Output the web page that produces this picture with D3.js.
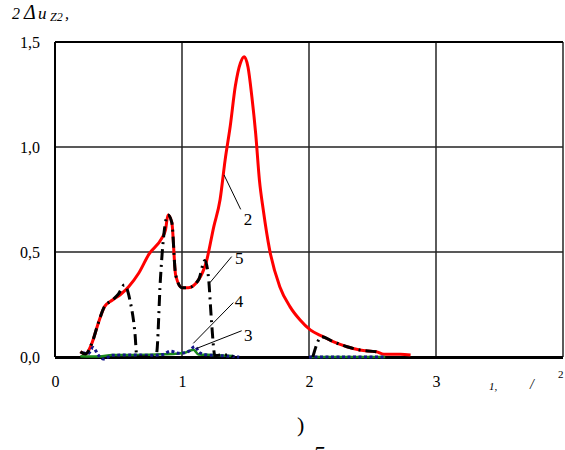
<!DOCTYPE html>
<html><head><meta charset="utf-8">
<script src="https://cdn.jsdelivr.net/npm/d3@7"></script>
<style>body{margin:0;background:#fff} svg text{font-family:"Liberation Serif","Times New Roman",Times,serif;fill:#000}</style>
</head><body><svg id="c" width="565" height="450"></svg>
<script>
// ---- data ----
const xTicks = [0, 1, 2, 3];
const yTicks = [0, 0.5, 1.0, 1.5];
const xGrid = [1, 2, 3, 4];
const yGrid = [0.5, 1.0];

// curve 2 (red)
const redX = [0.20,0.24,0.29,0.34,0.39,0.45,0.52,0.58,0.66,0.74,0.84,0.87,0.89,0.92,0.95,1.00,1.05,1.13,1.19,1.25,1.30,1.34,1.38,1.42,1.46,1.49,1.52,1.55,1.58,1.61,1.64,1.69,1.77,1.85,1.93,2.01,2.11,2.19,2.30,2.40,2.53,2.59,2.72,2.80];
const redY = [0.025,0.014,0.065,0.16,0.24,0.27,0.30,0.335,0.40,0.49,0.565,0.605,0.676,0.64,0.39,0.33,0.33,0.367,0.45,0.62,0.75,0.94,1.10,1.29,1.40,1.43,1.38,1.24,1.065,0.84,0.70,0.51,0.335,0.24,0.176,0.129,0.097,0.073,0.049,0.033,0.025,0.013,0.013,0.01];

// curve 5 (black dash-dot), null = gap
const blackX = [0.20,0.24,0.29,0.34,0.39,0.45,0.50,0.546,0.59,0.63,0.645,0.70,0.78,0.80,0.83,0.85,0.89,0.92,0.95,1.00,1.05,1.13,1.18,1.21,1.23,1.26,1.30,1.38,1.40, 1.70, 2.03,2.10,2.19,2.30,2.40,2.53,2.56];
const blackY = [0.025,0.014,0.065,0.16,0.24,0.27,0.30,0.343,0.27,0.11,0.0,0.0,0.0,0.018,0.37,0.54,0.676,0.64,0.39,0.33,0.33,0.367,0.46,0.37,0.19,0.005,0.01,0.01,0.0, null, 0.0,0.097,0.073,0.049,0.033,0.025,0.02];

// curve 3 (green)
const greenX = [0.20,0.35,0.45,0.60,0.80,0.95,1.02,1.09,1.13,1.25,1.40, 1.70, 2.00,2.60];
const greenY = [0.004,0.002,0.01,0.01,0.012,0.015,0.02,0.035,0.012,0.01,0.005, null, 0.0,0.0];

// curve 4 (blue dotted)
const blueX = [0.22,0.26,0.30,0.34,0.38,0.45,0.60,0.75,0.85,0.91,0.97,1.02,1.06,1.10,1.14,1.20,1.35,1.45, 1.70, 2.00,2.60];
const blueY = [0.02,0.015,0.045,0.01,-0.01,0.008,0.01,0.008,0.012,0.028,0.018,0.02,0.03,0.05,0.02,0.01,0.005,0.0, null, 0.0,0.0];

// curve labels: leader from (x1,y1) to (x2,y2), text at (tx,ty), data units
const labelNames = ["2","5","4","3"];
const labelX1 = [1.331,1.220,1.089,1.116];
const labelY1 = [0.867,0.354,0.065,0.041];
const labelX2 = [1.462,1.391,1.404,1.470];
const labelY2 = [0.703,0.478,0.259,0.125];
const labelTX = [1.52,1.451,1.449,1.522];
const labelTY = [0.657,0.473,0.268,0.105];

// ---- drawing ----
const svg = d3.select("#c");
const x = d3.scaleLinear().domain([0,4]).range([55,563]);
const y = d3.scaleLinear().domain([0,1.5]).range([357,42]);

// grid
svg.append("g").selectAll("line").data(xGrid).join("line")
  .attr("x1", d=>x(d)).attr("x2", d=>x(d)).attr("y1", y(1.5)).attr("y2", y(0))
  .attr("stroke", "#4a4a4a").attr("stroke-width", 1.8);
svg.append("g").selectAll("line").data(yGrid).join("line")
  .attr("x1", x(0)).attr("x2", x(4)).attr("y1", d=>y(d)).attr("y2", d=>y(d))
  .attr("stroke", "#222").attr("stroke-width", 1.6);
// frame
svg.append("line").attr("x1", x(0)).attr("x2", x(4)).attr("y1", y(1.5)).attr("y2", y(1.5)).attr("stroke","#000").attr("stroke-width",2);
svg.append("line").attr("x1", x(0)).attr("x2", x(0)).attr("y1", y(1.5)).attr("y2", y(0)).attr("stroke","#000").attr("stroke-width",2);

// axes
const fmtY = d => d3.format(".1f")(d).replace(".", ",");
const yAxis = svg.append("g").attr("transform", `translate(${x(0)-12},0)`)
  .call(d3.axisLeft(y).tickValues(yTicks).tickFormat(fmtY).tickSize(0));
yAxis.attr("font-family", null);
yAxis.select(".domain").remove();
yAxis.selectAll("text").attr("font-size", 16).attr("dy","0.35em");

const xAxis = svg.append("g").attr("transform", `translate(0,${y(0)+16})`)
  .call(d3.axisBottom(x).tickValues(xTicks).tickFormat(d3.format("d")).tickSize(0));
xAxis.attr("font-family", null);
xAxis.select(".domain").remove();
xAxis.selectAll("text").attr("font-size", 16);

// bottom axis line
svg.append("line").attr("x1", x(0)).attr("x2", x(4)).attr("y1", y(0)+0.5).attr("y2", y(0)+0.5).attr("stroke","#000").attr("stroke-width",3);

function mk(xs, ys){ return xs.map((v,i)=>({x:v, y:ys[i]})); }
const line = d3.line().defined(d=>d.y!==null).x(d=>x(d.x)).y(d=>y(d.y)).curve(d3.curveMonotoneX);

svg.append("path").datum(mk(redX, redY)).attr("d", line)
  .attr("fill","none").attr("stroke","#ff0000").attr("stroke-width",3);
svg.append("path").datum(mk(greenX, greenY)).attr("d", line)
  .attr("fill","none").attr("stroke","#1a8a1a").attr("stroke-width",2.5);
svg.append("path").datum(mk(blueX, blueY)).attr("d", line)
  .attr("fill","none").attr("stroke","#15158a").attr("stroke-width",3).attr("stroke-dasharray","3,2.5");
svg.append("path").datum(mk(blackX, blackY)).attr("d", line)
  .attr("fill","none").attr("stroke","#000").attr("stroke-width",3).attr("stroke-dasharray","11,5,2,5");

// labels
labelNames.forEach((n,i)=>{
  svg.append("line").attr("x1", x(labelX1[i])).attr("y1", y(labelY1[i]))
    .attr("x2", x(labelX2[i])).attr("y2", y(labelY2[i])).attr("stroke","#000").attr("stroke-width",1);
  svg.append("text").attr("x", x(labelTX[i])).attr("y", y(labelTY[i])).attr("dy","0.35em")
    .attr("text-anchor","middle").attr("font-size",17).text(n);
});

// y title
const t = svg.append("text").attr("y", 19).attr("font-size", 16).attr("font-style","italic");
t.append("tspan").attr("x", 12).text("2");
t.append("tspan").attr("x", 24).attr("font-size", 20).text("Δ");
t.append("tspan").attr("x", 38).attr("font-size", 17).text("u");
t.append("tspan").attr("x", 50).attr("dy", 2).attr("font-size", 12).text("Z2");
t.append("tspan").attr("x", 65).attr("dy", -2).text(",");

// x unit
svg.append("text").attr("x", 489).attr("y", 390).attr("font-size", 11).attr("font-style","italic").text("1,");
svg.append("text").attr("x", 530).attr("y", 389).attr("font-size", 14).attr("font-style","italic").text("/");
svg.append("text").attr("x", 558).attr("y", 378).attr("font-size", 11).text("2");

// caption
svg.append("text").attr("x", 297).attr("y", 432).attr("font-size", 22).text(")");
svg.append("text").attr("x", 313).attr("y", 462).attr("font-size", 24).attr("font-style","italic").text("5");
</script>
</body></html>
